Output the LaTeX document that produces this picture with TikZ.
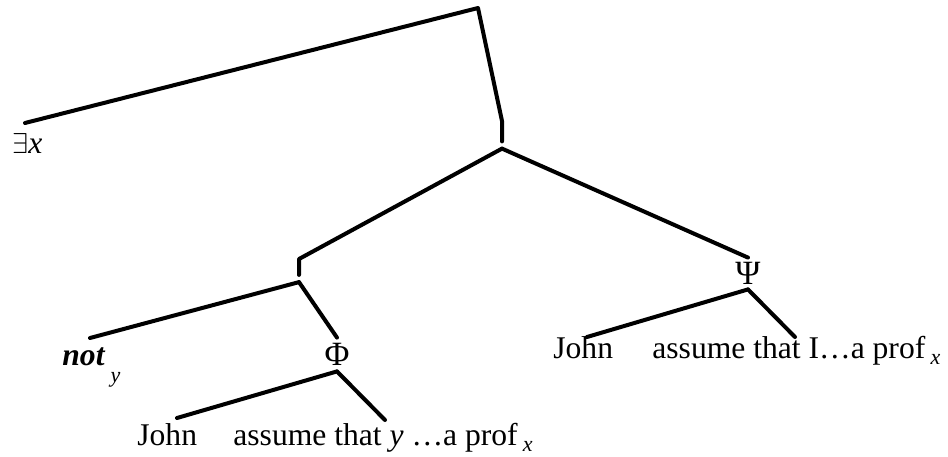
\documentclass[tikz,border=0pt]{standalone}
\usepackage{fontspec}
\setmainfont{Liberation Serif}
\usetikzlibrary{positioning}
\tikzset{
  branch/.style={line width=2pt, line cap=round, line join=round},
  lbl/.style={font=\fontsize{15.8}{18}\selectfont, inner sep=0pt},
  knot/.style={inner sep=0pt, minimum width=0pt, minimum height=3.2pt},
}
\newcommand{\lowsub}[2][-0.2em]{\raisebox{#1}{\fontsize{11}{12}\selectfont\textit{#2}}}

\begin{document}
\begin{tikzpicture}[x=0.5pt, y=-0.5pt]
\useasboundingbox (0,0) rectangle (948,456);

% upper part
\coordinate (root) at (478,8);
\coordinate (bendA) at (502,121);
\node[knot] (n1) at (502,145) {};
\node[lbl, anchor=base west] (ex) at (12,153) {$\exists$\textit{x}};
\coordinate (exTop) at (25,123);

% left daughter
\coordinate (bendB) at (299,259);
\node[knot] (n2) at (299,278.5) {};
\node[lbl, anchor=base west] (neg) at (62,365) {\textbf{\textit{not}}\,\lowsub[-0.55em]{y}};
\coordinate (negTop) at (90,338);
\node[lbl, font=\fontsize{17}{18}\selectfont, minimum height=16.5pt] (phi) at (337,354.5) {Φ};

% right daughter
\node[lbl, font=\fontsize{17}{18}\selectfont, minimum height=15.5pt] (psi) at (748,273.5) {Ψ};

% leaves
\node[lbl, anchor=base west] (john1) at (137,445) {John};
\node[lbl, anchor=base west] (say1) at (233,445) {assume that \textit{y} …a prof\,\lowsub{x}};
\coordinate (john1Top) at (177,418);
\coordinate (say1Top) at (385,420);
\node[lbl, anchor=base west] (john2) at (553,358) {John};
\node[lbl, anchor=base west] (say2) at (652,358) {assume that I…a prof\,\lowsub{x}};
\coordinate (john2Top) at (587,337);
\coordinate (say2Top) at (795,337);

% branches
\draw[branch] (exTop) -- (root) -- (bendA) -- (n1.north);
\draw[branch] (n1.south) -- (bendB) -- (n2.north);
\draw[branch] (n1.south) -- (psi.north);
\draw[branch] (n2.south) -- (negTop);
\draw[branch] (n2.south) -- (phi.north);
\draw[branch] (phi.south) -- (john1Top);
\draw[branch] (phi.south) -- (say1Top);
\draw[branch] (psi.south) -- (john2Top);
\draw[branch] (psi.south) -- (say2Top);

\end{tikzpicture}
\end{document}
